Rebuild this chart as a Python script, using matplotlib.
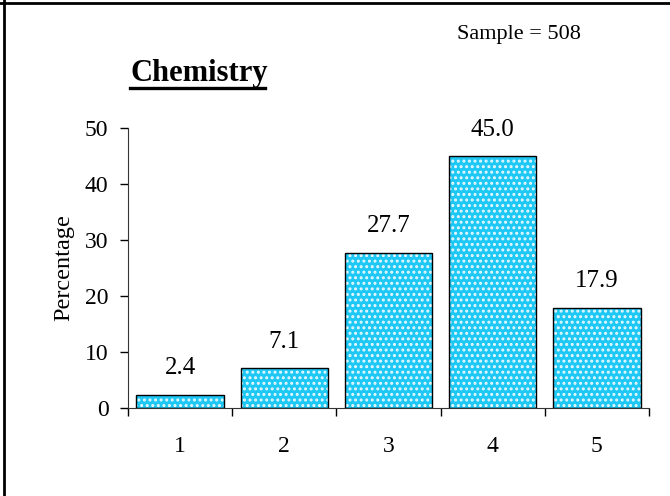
import numpy as np
import matplotlib
matplotlib.use("Agg")
import matplotlib.pyplot as plt
from matplotlib.lines import Line2D

# data
categories = ["1", "2", "3", "4", "5"]
percent = [2.4, 7.1, 27.7, 45.0, 17.9]
title = "Chemistry"
sample_text = "Sample = 508"

plt.rcParams['font.family'] = ['Liberation Serif', 'DejaVu Serif']
plt.rcParams['hatch.linewidth'] = 1.4

fig = plt.figure(figsize=(6.7, 4.96), dpi=100)
ax = fig.add_axes([128/670, 1-408/496, (649-128)/670, (408-128)/496])

x = np.arange(len(categories))
# patterned fill (white dots on cyan), then black outline on top
ax.bar(x, percent, width=0.84, color='#1ec8f5', edgecolor='#e8f8ff',
       hatch='...', linewidth=0, zorder=2)
ax.bar(x, percent, width=0.84, fill=False, edgecolor='black',
       linewidth=1.0, zorder=3)

for xi, v in zip(x, percent):
    ax.annotate(f"{v:.1f}", (xi, v), xytext=(0, 19), textcoords='offset points',
                ha='center', va='center', fontsize=18)

ax.set_xlim(-0.5, len(categories) - 0.5)
ax.set_ylim(0, 50)
ax.set_yticks([0, 10, 20, 30, 40, 50])
ax.tick_params(axis='y', direction='out', length=6, width=1, labelsize=17, pad=8)

# ticks between categories, labels at centres
ax.set_xticks(np.arange(-0.5, len(categories)), minor=False)
ax.set_xticklabels([])
ax.set_xticks(x, minor=True)
ax.set_xticklabels(categories, minor=True)
ax.tick_params(axis='x', which='major', direction='out', length=6, width=1)
ax.tick_params(axis='x', which='minor', length=0, labelsize=17, pad=20)

for s in ['top', 'right']:
    ax.spines[s].set_visible(False)
for s in ['left', 'bottom']:
    ax.spines[s].set_color('#333333')
ax.set_ylabel("Percentage", fontsize=17.5, labelpad=8)

fig.text(130/670, 1-73/496, title, fontsize=22, fontweight='bold', ha='left', va='center')
fig.add_artist(Line2D([130/670, 265/670], [1-88/496, 1-88/496], color='black', lw=2.4))
fig.text(457/670, 1-34/496, sample_text, fontsize=16, ha='left', va='center')

# frame lines of the original picture (top and left edges)
fig.add_artist(Line2D([0, 1], [1-3/496, 1-3/496], color='black', lw=2))
fig.add_artist(Line2D([4/670, 4/670], [0, 1], color='black', lw=2))

fig.savefig("out.png", dpi=100)
